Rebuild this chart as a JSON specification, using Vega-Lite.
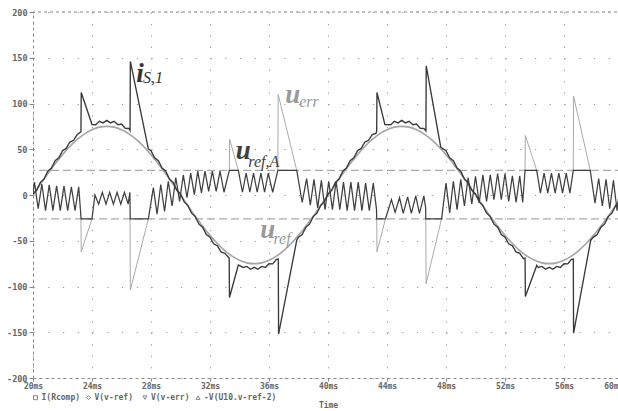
{
"$schema":"https://vega.github.io/schema/vega-lite/v6.json",
"width":590,"height":366,
"autosize":{"type":"none"},
"padding":{"left":33,"top":12,"right":0,"bottom":33},
"background":"white",
"config":{"view":{"stroke":null}},
"datasets":{
"uref":[{"t":20,"v":0},{"t":20.5,"v":11.7},{"t":21,"v":23.2},{"t":21.5,"v":34.1},{"t":22,"v":44.1},{"t":22.5,"v":53},{"t":23,"v":60.7},{"t":23.5,"v":66.8},{"t":24,"v":71.3},{"t":24.5,"v":74.1},{"t":25,"v":75},{"t":25.5,"v":74.1},{"t":26,"v":71.3},{"t":26.5,"v":66.8},{"t":27,"v":60.7},{"t":27.5,"v":53},{"t":28,"v":44.1},{"t":28.5,"v":34.1},{"t":29,"v":23.2},{"t":29.5,"v":11.7},{"t":30,"v":0},{"t":30.5,"v":-11.7},{"t":31,"v":-23.2},{"t":31.5,"v":-34.1},{"t":32,"v":-44.1},{"t":32.5,"v":-53},{"t":33,"v":-60.7},{"t":33.5,"v":-66.8},{"t":34,"v":-71.3},{"t":34.5,"v":-74.1},{"t":35,"v":-75},{"t":35.5,"v":-74.1},{"t":36,"v":-71.3},{"t":36.5,"v":-66.8},{"t":37,"v":-60.7},{"t":37.5,"v":-53},{"t":38,"v":-44.1},{"t":38.5,"v":-34.1},{"t":39,"v":-23.2},{"t":39.5,"v":-11.7},{"t":40,"v":0},{"t":40.5,"v":11.7},{"t":41,"v":23.2},{"t":41.5,"v":34.1},{"t":42,"v":44.1},{"t":42.5,"v":53},{"t":43,"v":60.7},{"t":43.5,"v":66.8},{"t":44,"v":71.3},{"t":44.5,"v":74.1},{"t":45,"v":75},{"t":45.5,"v":74.1},{"t":46,"v":71.3},{"t":46.5,"v":66.8},{"t":47,"v":60.7},{"t":47.5,"v":53},{"t":48,"v":44.1},{"t":48.5,"v":34.1},{"t":49,"v":23.2},{"t":49.5,"v":11.7},{"t":50,"v":0},{"t":50.5,"v":-11.7},{"t":51,"v":-23.2},{"t":51.5,"v":-34.1},{"t":52,"v":-44.1},{"t":52.5,"v":-53},{"t":53,"v":-60.7},{"t":53.5,"v":-66.8},{"t":54,"v":-71.3},{"t":54.5,"v":-74.1},{"t":55,"v":-75},{"t":55.5,"v":-74.1},{"t":56,"v":-71.3},{"t":56.5,"v":-66.8},{"t":57,"v":-60.7},{"t":57.5,"v":-53},{"t":58,"v":-44.1},{"t":58.5,"v":-34.1},{"t":59,"v":-23.2},{"t":59.5,"v":-11.7},{"t":60,"v":0}],
"is1":[{"t":20,"v":1.2},{"t":20.25,"v":5.1},{"t":20.5,"v":13.8},{"t":20.75,"v":17.5},{"t":21,"v":26},{"t":21.25,"v":29.5},{"t":21.5,"v":37.6},{"t":21.75,"v":40.7},{"t":22,"v":48.4},{"t":22.25,"v":50.9},{"t":22.5,"v":57.9},{"t":22.75,"v":59.8},{"t":23,"v":66.1},{"t":23.25,"v":69},{"t":23.27,"v":112},{"t":24,"v":77},{"t":24.25,"v":76.8},{"t":24.5,"v":80.5},{"t":24.75,"v":78.8},{"t":25,"v":81.5},{"t":25.25,"v":78.8},{"t":25.5,"v":80.5},{"t":25.75,"v":76.8},{"t":26,"v":77.5},{"t":26.25,"v":72.9},{"t":26.5,"v":72.7},{"t":26.58,"v":70.5},{"t":26.6,"v":146},{"t":27.82,"v":50.5},{"t":28,"v":48.4},{"t":28.25,"v":40.7},{"t":28.5,"v":37.6},{"t":28.75,"v":29.5},{"t":29,"v":26},{"t":29.25,"v":17.5},{"t":29.5,"v":13.8},{"t":29.75,"v":5.1},{"t":30,"v":1.2},{"t":30.25,"v":-7.5},{"t":30.5,"v":-11.4},{"t":30.75,"v":-19.9},{"t":31,"v":-23.6},{"t":31.25,"v":-31.9},{"t":31.5,"v":-35.2},{"t":31.75,"v":-43.1},{"t":32,"v":-46},{"t":32.25,"v":-53.3},{"t":32.5,"v":-55.5},{"t":32.75,"v":-62.2},{"t":33,"v":-63.7},{"t":33.3,"v":-69},{"t":33.32,"v":-112},{"t":33.92,"v":-76.5},{"t":34.25,"v":-79.2},{"t":34.5,"v":-78.1},{"t":34.75,"v":-81.2},{"t":35,"v":-79.1},{"t":35.25,"v":-81.2},{"t":35.5,"v":-78.1},{"t":35.75,"v":-79.2},{"t":36,"v":-75.1},{"t":36.25,"v":-75.3},{"t":36.5,"v":-70.3},{"t":36.63,"v":-70},{"t":36.65,"v":-152},{"t":37.88,"v":-49.5},{"t":38,"v":-46},{"t":38.25,"v":-43.1},{"t":38.5,"v":-35.2},{"t":38.75,"v":-31.9},{"t":39,"v":-23.6},{"t":39.25,"v":-19.9},{"t":39.5,"v":-11.4},{"t":39.75,"v":-7.5},{"t":40,"v":1.2},{"t":40.25,"v":5.1},{"t":40.5,"v":13.8},{"t":40.75,"v":17.5},{"t":41,"v":26},{"t":41.25,"v":29.5},{"t":41.5,"v":37.6},{"t":41.75,"v":40.7},{"t":42,"v":48.4},{"t":42.25,"v":50.9},{"t":42.5,"v":57.9},{"t":42.75,"v":59.8},{"t":43,"v":66.1},{"t":43.25,"v":67.2},{"t":43.3,"v":69.5},{"t":43.32,"v":112},{"t":43.86,"v":77},{"t":44.25,"v":76.8},{"t":44.5,"v":80.5},{"t":44.75,"v":78.8},{"t":45,"v":81.5},{"t":45.25,"v":78.8},{"t":45.5,"v":80.5},{"t":45.75,"v":76.8},{"t":46,"v":77.5},{"t":46.25,"v":72.9},{"t":46.5,"v":72.7},{"t":46.64,"v":70},{"t":46.66,"v":141},{"t":47.64,"v":52.5},{"t":47.75,"v":50.9},{"t":48,"v":48.4},{"t":48.25,"v":40.7},{"t":48.5,"v":37.6},{"t":48.75,"v":29.5},{"t":49,"v":26},{"t":49.25,"v":17.5},{"t":49.5,"v":13.8},{"t":49.75,"v":5.1},{"t":50,"v":1.2},{"t":50.25,"v":-7.5},{"t":50.5,"v":-11.4},{"t":50.75,"v":-19.9},{"t":51,"v":-23.6},{"t":51.25,"v":-31.9},{"t":51.5,"v":-35.2},{"t":51.75,"v":-43.1},{"t":52,"v":-46},{"t":52.25,"v":-53.3},{"t":52.5,"v":-55.5},{"t":52.75,"v":-62.2},{"t":53,"v":-63.7},{"t":53.25,"v":-69.6},{"t":53.36,"v":-69},{"t":53.38,"v":-111},{"t":54.15,"v":-77},{"t":54.25,"v":-79.2},{"t":54.5,"v":-78.1},{"t":54.75,"v":-81.2},{"t":55,"v":-79.1},{"t":55.25,"v":-81.2},{"t":55.5,"v":-78.1},{"t":55.75,"v":-79.2},{"t":56,"v":-75.1},{"t":56.25,"v":-75.3},{"t":56.5,"v":-70.3},{"t":56.63,"v":-70},{"t":56.65,"v":-151},{"t":57.81,"v":-49.5},{"t":58,"v":-46},{"t":58.25,"v":-43.1},{"t":58.5,"v":-35.2},{"t":58.75,"v":-31.9},{"t":59,"v":-23.6},{"t":59.25,"v":-19.9},{"t":59.5,"v":-11.4},{"t":59.75,"v":-7.5},{"t":60,"v":1.2}],
"urefa":[{"t":20,"v":2},{"t":20.1,"v":14},{"t":20.35,"v":-15},{"t":20.6,"v":12},{"t":20.85,"v":-17},{"t":21.1,"v":11},{"t":21.35,"v":-17},{"t":21.6,"v":10},{"t":21.85,"v":-17},{"t":22.1,"v":10},{"t":22.35,"v":-17},{"t":22.6,"v":9},{"t":22.85,"v":-17},{"t":23.1,"v":9},{"t":23.26,"v":-26},{"t":24,"v":-26},{"t":24.2,"v":0},{"t":24.45,"v":-10},{"t":24.7,"v":3},{"t":24.95,"v":-10},{"t":25.2,"v":3},{"t":25.45,"v":-10},{"t":25.7,"v":3},{"t":25.95,"v":-10},{"t":26.2,"v":3},{"t":26.45,"v":-10},{"t":26.57,"v":3},{"t":26.59,"v":-26},{"t":27.82,"v":-26},{"t":28.16,"v":8},{"t":28.41,"v":-21},{"t":28.66,"v":11.5},{"t":28.92,"v":-18},{"t":29.17,"v":15},{"t":29.43,"v":-12},{"t":29.68,"v":19},{"t":29.94,"v":-7},{"t":30.19,"v":22},{"t":30.44,"v":-3},{"t":30.69,"v":24},{"t":30.94,"v":0.5},{"t":31.17,"v":26},{"t":31.42,"v":2.4},{"t":31.66,"v":26},{"t":31.91,"v":4},{"t":32.16,"v":26},{"t":32.42,"v":4},{"t":32.68,"v":26},{"t":32.95,"v":3},{"t":33.31,"v":27},{"t":33.92,"v":27},{"t":34.2,"v":3},{"t":34.45,"v":24},{"t":34.7,"v":3},{"t":34.95,"v":24},{"t":35.2,"v":3},{"t":35.45,"v":24},{"t":35.7,"v":3},{"t":35.95,"v":24},{"t":36.25,"v":3},{"t":36.6,"v":27},{"t":37.88,"v":27},{"t":38.25,"v":-8},{"t":38.55,"v":18},{"t":38.8,"v":-11},{"t":39.05,"v":17},{"t":39.3,"v":-14},{"t":39.55,"v":16},{"t":39.8,"v":-16},{"t":40.05,"v":15},{"t":40.3,"v":-16},{"t":40.55,"v":15},{"t":40.8,"v":-16},{"t":41.05,"v":14},{"t":41.3,"v":-17},{"t":41.55,"v":14},{"t":41.8,"v":-17},{"t":42.05,"v":14},{"t":42.3,"v":-17},{"t":42.55,"v":13},{"t":42.8,"v":-17},{"t":43.07,"v":13},{"t":43.29,"v":-16},{"t":43.3,"v":-26},{"t":43.9,"v":-26},{"t":44.3,"v":-5},{"t":44.55,"v":-19},{"t":44.85,"v":-3},{"t":45.1,"v":-20},{"t":45.4,"v":-2},{"t":45.65,"v":-20},{"t":45.95,"v":-1},{"t":46.2,"v":-20},{"t":46.5,"v":-1},{"t":46.62,"v":-14},{"t":46.63,"v":-26},{"t":47.7,"v":-26},{"t":48,"v":13},{"t":48.25,"v":-19.5},{"t":48.5,"v":15},{"t":48.75,"v":-16},{"t":49,"v":17},{"t":49.25,"v":-12},{"t":49.5,"v":19},{"t":49.75,"v":-10},{"t":50,"v":20.5},{"t":50.25,"v":-8.5},{"t":50.5,"v":22},{"t":50.75,"v":-7},{"t":51,"v":22},{"t":51.25,"v":-5},{"t":51.5,"v":23.5},{"t":51.75,"v":-5},{"t":52,"v":23.5},{"t":52.25,"v":-7},{"t":52.5,"v":21},{"t":52.75,"v":-8},{"t":53,"v":21},{"t":53.2,"v":-8},{"t":53.36,"v":27},{"t":54.15,"v":27},{"t":54.4,"v":2},{"t":54.65,"v":24},{"t":54.9,"v":2},{"t":55.15,"v":24},{"t":55.4,"v":2},{"t":55.65,"v":24},{"t":55.9,"v":2},{"t":56.15,"v":24},{"t":56.4,"v":2},{"t":56.63,"v":27},{"t":57.78,"v":27},{"t":58.1,"v":-9},{"t":58.35,"v":18},{"t":58.6,"v":-12},{"t":58.85,"v":17},{"t":59.1,"v":-15},{"t":59.35,"v":16},{"t":59.6,"v":-17},{"t":59.85,"v":15},{"t":60,"v":0}],
"uerr":[{"seg":1,"t":23.25,"v":-26},{"seg":1,"t":23.27,"v":-62},{"seg":1,"t":24,"v":-26},{"seg":2,"t":26.58,"v":-26},{"seg":2,"t":26.6,"v":-104},{"seg":2,"t":27.82,"v":-26},{"seg":3,"t":33.31,"v":27},{"seg":3,"t":33.33,"v":61},{"seg":3,"t":33.92,"v":27},{"seg":4,"t":36.6,"v":27},{"seg":4,"t":36.62,"v":110},{"seg":4,"t":37.88,"v":27},{"seg":5,"t":43.3,"v":-26},{"seg":5,"t":43.32,"v":-62},{"seg":5,"t":43.9,"v":-26},{"seg":6,"t":46.63,"v":-26},{"seg":6,"t":46.65,"v":-97},{"seg":6,"t":47.7,"v":-26},{"seg":7,"t":53.36,"v":27},{"seg":7,"t":53.38,"v":65},{"seg":7,"t":54.15,"v":27},{"seg":8,"t":56.63,"v":27},{"seg":8,"t":56.65,"v":108},{"seg":8,"t":57.78,"v":27}],
"frame":[{"v":200,"k":"top"},{"v":27,"k":"lim"},{"v":-26,"k":"lim"}],
"annot":[{"t":27.0,"v":124,"txt":"i","part":"main","trace":"I(Rcomp)"},{"t":27.45,"v":122,"txt":"S,1","part":"sub","trace":"I(Rcomp)"},{"t":37.1,"v":101,"txt":"u","part":"main","trace":"V(v-err)"},{"t":38.05,"v":96,"txt":"err","part":"sub","trace":"V(v-err)"},{"t":33.75,"v":39,"txt":"u","part":"main","trace":"-V(U10.v-ref-2)"},{"t":34.6,"v":31,"txt":"ref,A","part":"sub","trace":"-V(U10.v-ref-2)"},{"t":35.4,"v":-46.5,"txt":"u","part":"main","trace":"V(v-ref)"},{"t":36.3,"v":-54,"txt":"ref","part":"sub","trace":"V(v-ref)"}],
"keys":[{"t":20.17,"v":-221.5,"series":"I(Rcomp)"},{"t":23.76,"v":-221.5,"series":"V(v-ref)"},{"t":27.59,"v":-221.5,"series":"V(v-err)"},{"t":31.19,"v":-221.5,"series":"-V(U10.v-ref-2)"}]
},
"layer":[
{"data":{"name":"uref"},"mark":{"type":"line","color":"#a6a6a6","strokeWidth":1.7,"interpolate":"monotone","clip":true},
 "encoding":{
  "x":{"field":"t","type":"quantitative","scale":{"domain":[20,60],"nice":false,"zero":false},
   "axis":{"values":[20,22,24,26,28,30,32,34,36,38,40,42,44,46,48,50,52,54,56,58,60],
    "labelExpr":"datum.value % 4 == 0 ? datum.value + 'ms' : ''",
    "labelAlign":{"condition":{"test":"datum.value == 60","value":"right"},"value":"center"},
    "labelFlush":false,"labelOverlap":false,"labelBound":false,
    "labelFont":"DejaVu Sans Mono","labelFontSize":8,"labelFontWeight":"bold","labelColor":"#666","labelPadding":1,
    "tickSize":3,"tickColor":"#888","tickOpacity":{"condition":{"test":"datum.value % 4 == 0","value":1},"value":0},
    "domainColor":"#888","domainDash":[3,3],
    "grid":true,"gridColor":"#999","gridDash":[1.2,10.24],
    "title":"Time","titleFont":"DejaVu Sans Mono","titleFontSize":8,"titleFontWeight":"bold","titleColor":"#666","titlePadding":11}},
  "y":{"field":"v","type":"quantitative","scale":{"domain":[-200,200],"nice":false},
   "axis":{"values":[-200,-175,-150,-125,-100,-75,-50,-25,0,25,50,75,100,125,150,175,200],
    "labelExpr":"datum.value % 50 == 0 ? '' + datum.value : ''",
    "labelFont":"DejaVu Sans Mono","labelFontSize":8.5,"labelFontWeight":"bold","labelColor":"#666","labelPadding":2,"labelOverlap":false,"labelFlush":false,
    "tickSize":4,"tickColor":"#888","tickOpacity":{"condition":{"test":"datum.value % 50 == 0","value":1},"value":0},
    "domainColor":"#888","domainDash":[3,3],
    "grid":true,"gridColor":"#999","gridDash":[1.2,13.55],
    "title":null}}}},
{"data":{"name":"frame"},"transform":[{"filter":"datum.k == 'top'"}],"mark":{"type":"rule","color":"#888","strokeDash":[3,3],"strokeWidth":1},
 "encoding":{"y":{"field":"v","type":"quantitative"}}},
{"data":{"name":"frame"},"transform":[{"filter":"datum.k == 'lim'"}],"mark":{"type":"rule","color":"#aaa","strokeDash":[8,4],"strokeWidth":1.2},
 "encoding":{"y":{"field":"v","type":"quantitative"}}},
{"data":{"name":"uerr"},"mark":{"type":"line","color":"#aaaaaa","strokeWidth":1,"clip":true},
 "encoding":{"x":{"field":"t","type":"quantitative"},"y":{"field":"v","type":"quantitative"},"detail":{"field":"seg","type":"nominal"}}},
{"data":{"name":"is1"},"mark":{"type":"line","color":"#3a3a3a","strokeWidth":1.35,"clip":true},
 "encoding":{"x":{"field":"t","type":"quantitative"},"y":{"field":"v","type":"quantitative"}}},
{"data":{"name":"urefa"},"mark":{"type":"line","color":"#404040","strokeWidth":1.25,"clip":true},
 "encoding":{"x":{"field":"t","type":"quantitative"},"y":{"field":"v","type":"quantitative"}}},
{"data":{"name":"annot"},"transform":[{"filter":"datum.part == 'main'"}],
 "mark":{"type":"text","font":"Liberation Serif","fontSize":27,"fontWeight":"bold","fontStyle":"italic","align":"left","baseline":"alphabetic"},
 "encoding":{"x":{"field":"t","type":"quantitative"},"y":{"field":"v","type":"quantitative"},"text":{"field":"txt"},
  "color":{"field":"trace","type":"nominal","scale":{"domain":["I(Rcomp)","V(v-ref)","V(v-err)","-V(U10.v-ref-2)"],"range":["#333333","#9a9a9a","#9a9a9a","#404040"]},"legend":null}}},
{"data":{"name":"annot"},"transform":[{"filter":"datum.part == 'sub'"}],
 "mark":{"type":"text","font":"Liberation Serif","fontSize":16,"fontStyle":"italic","align":"left","baseline":"alphabetic"},
 "encoding":{"x":{"field":"t","type":"quantitative"},"y":{"field":"v","type":"quantitative"},"text":{"field":"txt"},
  "color":{"field":"trace","type":"nominal","legend":null}}},
{"data":{"name":"keys"},"mark":{"type":"point","filled":false,"color":"#555","strokeWidth":1,"size":16,"clip":false},
 "encoding":{"x":{"field":"t","type":"quantitative"},"y":{"field":"v","type":"quantitative"},
  "shape":{"field":"series","type":"nominal","scale":{"domain":["I(Rcomp)","V(v-ref)","V(v-err)","-V(U10.v-ref-2)"],"range":["square","diamond","triangle-down","triangle-up"]},"legend":null}}},
{"data":{"name":"keys"},"mark":{"type":"text","font":"DejaVu Sans Mono","fontSize":8,"fontWeight":"bold","color":"#666","align":"left","baseline":"middle","dx":6,"clip":false},
 "encoding":{"x":{"field":"t","type":"quantitative"},"y":{"field":"v","type":"quantitative"},"text":{"field":"series"}}}
]
}
